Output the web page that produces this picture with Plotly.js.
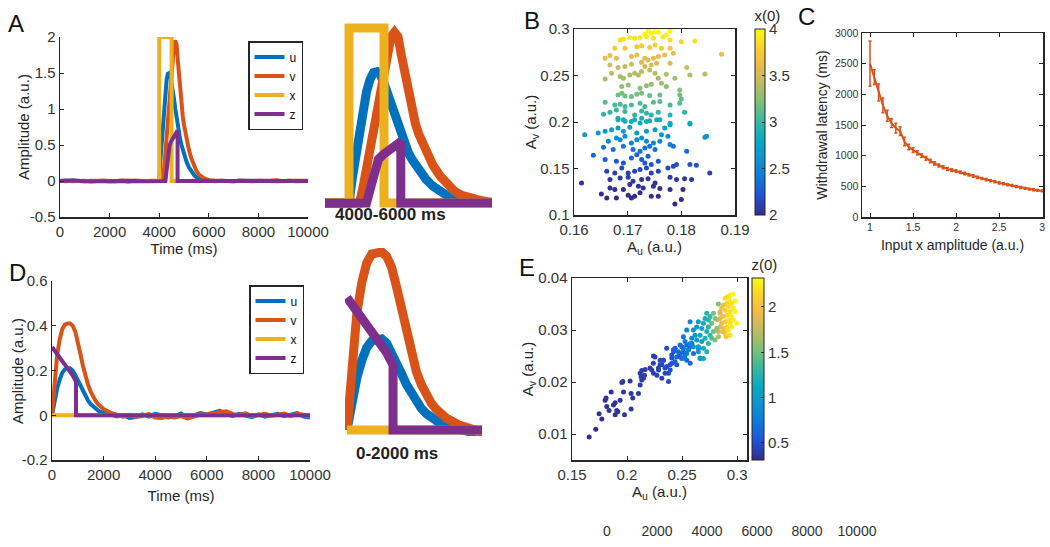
<!DOCTYPE html>
<html>
<head>
<meta charset="utf-8">
<script src="https://cdn.plot.ly/plotly-3.0.1.min.js"></script>
<style>html,body{margin:0;padding:0;background:#fff;}#chart{width:1050px;height:547px;}</style>
</head>
<body>
<div id="chart"></div>
<script>
// ---------------- DATA ----------------
// Panel A: response to a brief input pulse (time in ms)
const A_t = [0,250,500,750,1000,1250,1500,1750,2000,2250,2500,2750,3000,3250,3500,3750,
  4000,4050,4100,4150,4200,4250,4300,4350,4400,4450,4500,4550,4600,4650,4700,4750,4800,4850,4900,4950,5000,
  5100,5200,5300,5400,5500,5600,5700,5800,5900,6000,
  6250,6500,6750,7000,7250,7500,7750,8000,8250,8500,8750,9000,9250,9500,9750,10000];
const A_u = [0.005,-0.004,0.006,0.0,-0.005,0.004,0.008,0.0,-0.004,0.005,0.002,-0.006,0.004,0.0,-0.004,0.003,
  0.0,0.3,0.56,0.8,1.06,1.27,1.41,1.49,1.5,1.46,1.37,1.25,1.13,1.0,0.87,0.76,0.66,0.57,0.5,0.43,0.37,
  0.27,0.19,0.13,0.085,0.055,0.035,0.02,0.012,0.006,0.004,
  -0.004,0.005,0.0,-0.005,0.004,0.006,-0.003,0.002,0.007,0.0,-0.004,0.005,0.002,-0.005,0.004,0.0];
const A_v = [0.0,0.006,-0.004,0.005,0.002,-0.006,0.004,0.006,0.0,-0.004,0.006,0.002,-0.003,0.005,0.0,0.004,
  0.0,0.0,0.0,0.0,0.18,0.4,0.62,0.84,1.06,1.28,1.5,1.72,1.9,1.95,1.9,1.68,1.45,1.23,1.05,0.9,0.78,
  0.58,0.43,0.31,0.21,0.14,0.09,0.06,0.04,0.025,0.012,
  0.006,0.0,0.005,-0.004,0.008,0.002,-0.005,0.004,0.0,0.006,0.01,-0.002,0.005,0.0,0.006,0.003];
const A_tx = [0,4000,4000,4500,4500,10000];
const A_x  = [0,0,2,2,0,0];
const A_tz = [0,500,1000,1500,2000,2500,3000,3500,4000,4250,4300,4350,4420,4500,4600,4700,4740,4740,5000,6000,7000,8000,9000,10000];
const A_z  = [0.0,0.006,-0.003,0.0,0.004,-0.002,0.0,-0.005,0.0,0.0,0.15,0.35,0.5,0.56,0.63,0.68,0.7,0.0,0.0,0.0,0.0,0.0,0.0,0.0];

// Panel D: response to initial conditions
const D_t = [0,100,200,300,400,500,600,700,800,900,1000,1100,1200,1300,1400,1500,1600,1700,1800,1900,2000,
  2250,2500,2750,3000,3250,3500,3750,4000,4250,4500,4750,5000,5250,5500,5750,6000,6250,6500,6750,7000,
  7250,7500,7750,8000,8250,8500,8750,9000,9250,9500,9750,10000];
const D_u = [0,0.07,0.12,0.16,0.19,0.205,0.21,0.21,0.2,0.18,0.155,0.13,0.105,0.085,0.065,0.05,0.038,0.028,0.02,0.014,0.01,
  0.005,-0.005,0.0,-0.012,-0.008,0.004,-0.006,0.006,0.0,-0.01,-0.004,0.008,-0.012,0.0,0.01,0.004,0.012,0.02,0.008,-0.004,
  0.006,0.0,-0.008,0.004,-0.006,0.0,0.006,-0.004,0.004,0.01,-0.006,-0.01];
const D_v = [0,0.15,0.27,0.34,0.385,0.405,0.41,0.41,0.4,0.375,0.33,0.275,0.22,0.175,0.135,0.105,0.08,0.062,0.048,0.036,0.028,
  0.012,0.004,-0.006,0.002,-0.008,-0.004,0.006,-0.01,-0.012,-0.006,-0.01,-0.004,-0.014,-0.006,0.004,0.002,0.01,0.014,0.018,0.006,
  0.0,0.008,-0.004,0.002,0.006,-0.002,0.004,0.008,-0.004,0.006,0.002,-0.006];
const D_tx = [0,10000];
const D_x  = [0,0];
const D_tz = [0,200,400,600,800,930,930,10000];
const D_z  = [0.305,0.275,0.245,0.215,0.178,0.15,0,0];

// Panel B: A_u vs A_v, coloured by x(0)
const B_au = [0.1738,0.1751,0.1779,0.1732,0.1744,0.1757,0.1772,
  0.1686,0.1692,0.1704,0.1713,0.1723,0.1735,0.1748,0.1766,0.1779,0.1800,0.1825,
  0.1676,0.1695,0.1717,0.1726,0.1741,0.1751,0.1763,0.1779,0.1875,
  0.1658,0.1667,0.1679,0.1707,0.1717,0.1732,0.1738,0.1748,0.1757,0.1769,0.1785,
  0.1667,0.1682,0.1695,0.1707,0.1726,0.1732,0.1744,0.1754,0.1779,0.1810,
  0.1658,0.1670,0.1686,0.1692,0.1704,0.1713,0.1720,0.1726,0.1741,0.1751,0.1757,0.1772,0.1788,0.1816,0.1844,
  0.1689,0.1701,0.1723,0.1735,0.1744,0.1763,0.1772,0.1797,
  0.1682,0.1689,0.1695,0.1707,0.1717,0.1726,0.1741,0.1760,0.1797,0.1800,
  0.1658,0.1676,0.1686,0.1695,0.1707,0.1723,0.1732,0.1748,0.1760,0.1779,0.1797,
  0.1655,0.1667,0.1679,0.1695,0.1713,0.1726,0.1735,0.1744,0.1757,0.1779,0.1806,
  0.1682,0.1692,0.1707,0.1726,0.1735,0.1754,0.1779,0.1816,
  0.1682,0.1695,0.1713,0.1723,0.1741,0.1760,0.1779,0.1816,
  0.1620,0.1645,0.1658,0.1670,0.1682,0.1692,0.1704,0.1717,0.1735,0.1751,0.1769,0.1844,0.1847,
  0.1664,0.1679,0.1686,0.1695,0.1707,0.1717,0.1726,0.1735,0.1748,0.1760,0.1763,0.1779,0.1775,
  0.1636,0.1655,0.1673,0.1692,0.1710,0.1723,0.1732,0.1741,0.1751,0.1785,0.1810,
  0.1658,0.1679,0.1692,0.1707,0.1717,0.1726,0.1732,0.1738,0.1744,0.1757,0.1791,0.1828,0.1816,
  0.1661,0.1676,0.1689,0.1701,0.1713,0.1723,0.1735,0.1744,0.1757,0.1775,0.1785,0.1853,
  0.1614,0.1667,0.1686,0.1701,0.1710,0.1726,0.1738,0.1751,0.1779,0.1791,0.1806,0.1819,
  0.1667,0.1676,0.1692,0.1704,0.1720,0.1729,0.1748,0.1760,0.1779,0.1803,
  0.1651,0.1661,0.1679,0.1701,0.1707,0.1713,0.1744,0.1757,0.1800,0.1723,0.1788];
const B_av = [0.2979,0.2971,0.2979,0.2943,0.2953,0.2964,0.2936,
  0.2882,0.2893,0.2907,0.2900,0.2907,0.2918,0.2900,0.2918,0.2882,0.2864,0.2871,
  0.2792,0.2792,0.2810,0.2821,0.2800,0.2828,0.2792,0.2792,0.2728,
  0.2685,0.2714,0.2685,0.2703,0.2721,0.2685,0.2667,0.2685,0.2703,0.2721,0.2739,
  0.2613,0.2585,0.2596,0.2621,0.2642,0.2596,0.2613,0.2631,0.2631,0.2585,
  0.2463,0.2524,0.2488,0.2470,0.2506,0.2524,0.2506,0.2542,0.2560,0.2524,0.2470,0.2513,0.2470,0.2506,0.2517,
  0.2381,0.2399,0.2363,0.2391,0.2406,0.2417,0.2381,0.2345,
  0.2291,0.2309,0.2280,0.2273,0.2298,0.2309,0.2284,0.2291,0.2291,0.2248,
  0.2212,0.2184,0.2191,0.2166,0.2184,0.2202,0.2166,0.2212,0.2220,0.2184,0.2202,
  0.2084,0.2105,0.2130,0.2112,0.2076,0.2119,0.2094,0.2076,0.2105,0.2076,0.2105,
  0.2041,0.2023,0.2005,0.2041,0.2005,0.2023,0.1987,0.1987,
  0.2025,0.2007,0.2025,0.1989,0.2014,0.2025,0.1971,0.1979,
  0.1864,0.1882,0.1900,0.1918,0.1936,0.1900,0.1943,0.1882,0.1900,0.1918,0.1936,0.1835,0.1846,
  0.1792,0.1828,0.1810,0.1846,0.1774,0.1810,0.1828,0.1792,0.1774,0.1792,0.1864,0.1757,0.1846,
  0.1642,0.1728,0.1703,0.1739,0.1703,0.1685,0.1721,0.1739,0.1703,0.1739,0.1685,
  0.1596,0.1578,0.1560,0.1613,0.1649,0.1596,0.1560,0.1631,0.1542,0.1578,0.1542,0.1535,0.1542,
  0.1470,0.1452,0.1506,0.1452,0.1470,0.1488,0.1506,0.1452,0.1470,0.1506,0.1524,0.1452,
  0.1345,0.1381,0.1399,0.1406,0.1363,0.1381,0.1391,0.1345,0.1406,0.1381,0.1391,0.1381,
  0.1291,0.1273,0.1273,0.1327,0.1309,0.1291,0.1309,0.1284,0.1273,0.1273,
  0.1227,0.1184,0.1184,0.1212,0.1184,0.1202,0.1202,0.1202,0.1166,0.1238,0.1119];
const B_x0 = [4.0,4.0,4.0,3.96,3.97,3.98,3.95,
  3.86,3.88,3.9,3.88,3.9,3.92,3.88,3.92,3.86,3.83,3.85,
  3.72,3.72,3.75,3.76,3.74,3.77,3.72,3.72,3.65,
  3.58,3.62,3.58,3.6,3.62,3.58,3.55,3.58,3.6,3.62,3.64,
  3.5,3.47,3.48,3.51,3.53,3.48,3.5,3.52,3.52,3.47,
  3.33,3.4,3.36,3.34,3.38,3.4,3.38,3.42,3.44,3.4,3.34,3.39,3.34,3.38,3.39,
  3.27,3.29,3.25,3.28,3.3,3.31,3.27,3.23,
  3.17,3.19,3.16,3.15,3.18,3.19,3.16,3.17,3.17,3.12,
  3.09,3.06,3.07,3.04,3.06,3.08,3.04,3.09,3.1,3.06,3.08,
  2.96,2.98,3.01,2.99,2.95,3.0,2.97,2.95,2.98,2.95,2.98,
  2.9,2.88,2.86,2.9,2.86,2.88,2.84,2.84,
  2.86,2.84,2.86,2.82,2.85,2.86,2.8,2.81,
  2.64,2.66,2.68,2.7,2.72,2.68,2.73,2.66,2.68,2.7,2.72,2.62,2.63,
  2.53,2.57,2.55,2.59,2.51,2.55,2.57,2.53,2.51,2.53,2.61,2.49,2.59,
  2.3,2.4,2.37,2.41,2.37,2.35,2.39,2.41,2.37,2.41,2.35,
  2.25,2.23,2.21,2.27,2.3,2.25,2.21,2.28,2.19,2.23,2.19,2.18,2.19,
  2.12,2.1,2.15,2.1,2.12,2.14,2.15,2.1,2.12,2.15,2.16,2.1,
  2.04,2.07,2.08,2.09,2.06,2.07,2.08,2.04,2.09,2.07,2.08,2.07,
  2.03,2.02,2.02,2.05,2.04,2.03,2.04,2.03,2.02,2.02,
  2.01,2.0,2.0,2.01,2.0,2.01,2.01,2.01,2.0,2.02,2.0];

// Panel C: withdrawal latency vs input amplitude
const C_amp = [1.00,1.05,1.10,1.15,1.20,1.25,1.30,1.35,1.40,1.45,1.50,1.55,1.60,1.65,1.70,1.75,1.80,1.85,1.90,1.95,
  2.00,2.05,2.10,2.15,2.20,2.25,2.30,2.35,2.40,2.45,2.50,2.55,2.60,2.65,2.70,2.75,2.80,2.85,2.90,2.95,3.00];
const C_lat = [2500,2280,2030,1820,1650,1530,1450,1400,1230,1140,1090,1045,1000,955,912,873,840,810,782,765,
  750,728,708,688,668,645,628,610,592,574,556,541,526,512,496,481,468,455,444,434,425];
const C_err = [370,120,140,120,90,70,80,70,70,45,40,35,30,30,28,26,25,24,23,22,
  21,20,20,19,19,18,18,18,17,17,17,16,16,16,16,15,15,15,15,15,15];

// Panel E: A_u vs A_v, coloured by z(0)
const E_au = [0.1656,0.1716,0.1771,0.1746,0.1816,0.1801,0.1810,0.1856,0.1837,0.1877,0.1892,0.1907,0.1892,0.1937,0.1916,0.1977,
  0.1968,0.2037,0.2052,0.2037,0.2028,0.1953,0.1962,0.2104,0.2119,0.2134,0.2128,0.2149,0.2119,0.2134,0.2165,0.2159,
  0.2225,0.2240,0.2240,0.2271,0.2286,0.2301,0.2316,0.2316,0.2346,0.2362,0.2377,0.2377,0.2392,0.2331,0.2407,0.2407,
  0.2422,0.2437,0.2452,0.2468,0.2483,0.2498,0.2498,0.2513,0.2528,0.2543,0.2543,0.2559,0.2574,0.2589,0.2604,0.2574,
  0.2649,0.2665,
  0.2936,0.2960,0.2912,0.2891,0.2930,0.2982,0.2951,0.2906,0.2876,0.2921,0.2966,0.2860,0.2891,0.2936,0.2982,0.2845,
  0.2912,0.2876,0.2951,0.2845,0.2921,0.2966,0.2891,0.2860,0.2936,0.2906,0.2951,0.2876,0.2921,0.2891,0.2936,0.2997,
  0.2830,0.2845,0.2821,
  0.2845,0.2869,0.2900,0.2830,
  0.2785,0.2800,0.2769,0.2815,0.2785,0.2830,0.2800,0.2754,0.2739,
  0.2724,0.2709,0.2694,0.2739,0.2679,0.2724,0.2754,0.2709,0.2679,0.2739,0.2694,0.2724,0.2663,0.2648,0.2769,
  0.2648,0.2633,0.2603,0.2618,0.2588,0.2633,0.2573,0.2603,0.2648,0.2663,0.2694,0.2557,0.2573,
  0.2542,0.2512,0.2527,0.2482,0.2542,0.2512,0.2466,0.2497,0.2451,0.2527,0.2421,0.2436,
  0.2360,0.2406,0.2330,0.2300,0.2254,0.2391,0.2345,0.2239,0.2285,0.2209];
const E_av = [0.0094,0.0109,0.0129,0.0139,0.0153,0.0165,0.0169,0.0181,0.0145,0.0156,0.0160,0.0145,0.0137,0.0165,0.0143,0.0137,
  0.0181,0.0148,0.0169,0.0178,0.0202,0.0199,0.0201,0.0178,0.0194,0.0204,0.0210,0.0207,0.0217,0.0222,0.0224,0.0213,
  0.0223,0.0217,0.0250,0.0213,0.0223,0.0242,0.0233,0.0207,0.0217,0.0230,0.0217,0.0201,0.0223,0.0242,0.0236,0.0246,
  0.0258,0.0265,0.0233,0.0249,0.0255,0.0246,0.0268,0.0258,0.0252,0.0271,0.0242,0.0262,0.0236,0.0274,0.0255,0.0268,
  0.0265,0.0246,
  0.0367,0.0369,0.0364,0.0361,0.0358,0.0356,0.0351,0.0351,0.0348,0.0345,0.0342,0.0342,0.0338,0.0335,0.0335,0.0335,
  0.0329,0.0326,0.0326,0.0322,0.0319,0.0319,0.0316,0.0313,0.0313,0.0306,0.0306,0.0303,0.0300,0.0294,0.0290,0.0313,
  0.0350,0.0332,0.0319,
  0.0306,0.0297,0.0287,0.0297,
  0.0332,0.0322,0.0313,0.0303,0.0297,0.0287,0.0281,0.0326,0.0319,
  0.0332,0.0322,0.0313,0.0306,0.0303,0.0297,0.0290,0.0284,0.0278,0.0274,0.0265,0.0258,0.0290,0.0268,0.0284,
  0.0316,0.0306,0.0300,0.0290,0.0284,0.0281,0.0274,0.0268,0.0258,0.0245,0.0245,0.0262,0.0316,
  0.0300,0.0287,0.0278,0.0271,0.0255,0.0265,0.0258,0.0245,0.0248,0.0245,0.0262,0.0239,
  0.0265,0.0252,0.0242,0.0233,0.0248,0.0233,0.0227,0.0236,0.0227,0.0227];
const E_z0 = [0.33,0.33,0.35,0.35,0.35,0.35,0.36,0.36,0.35,0.36,0.36,0.36,0.35,0.37,0.36,0.37,
  0.37,0.38,0.38,0.38,0.38,0.37,0.37,0.39,0.39,0.4,0.4,0.4,0.4,0.4,0.4,0.4,
  0.42,0.42,0.43,0.43,0.44,0.45,0.45,0.44,0.46,0.47,0.47,0.46,0.48,0.46,0.5,0.5,
  0.52,0.53,0.52,0.55,0.56,0.57,0.58,0.6,0.6,0.62,0.6,0.63,0.62,0.66,0.67,0.64,
  0.72,0.72,
  2.25,2.3,2.2,2.15,2.25,2.3,2.2,2.1,2.0,2.2,2.25,1.95,2.1,2.2,2.3,1.9,
  2.15,2.05,2.25,1.9,2.2,2.25,2.1,1.95,2.2,2.15,2.25,2.0,2.2,2.1,2.2,2.3,
  1.55,1.85,1.8,
  1.9,1.95,2.05,1.8,
  1.5,1.55,1.45,1.6,1.5,1.65,1.55,1.35,1.3,
  1.25,1.2,1.15,1.25,1.1,1.2,1.3,1.2,1.1,1.25,1.15,1.2,1.05,1.0,1.4,
  1.0,0.95,0.9,0.92,0.88,0.95,0.85,0.9,1.0,1.05,1.1,0.8,0.85,
  0.78,0.72,0.75,0.68,0.75,0.7,0.65,0.68,0.62,0.72,0.58,0.58,
  0.5,0.52,0.48,0.45,0.43,0.5,0.47,0.42,0.44,0.41];

// Tick values and labels
const timeTicks = [0,2000,4000,6000,8000,10000];
const ampTicksA = [-0.5,0,0.5,1,1.5,2];
const ampLabelsA = ['-0.5','0','0.5','1','1.5','2'];
const ampTicksD = [-0.2,0,0.2,0.4,0.6];
const ampLabelsD = ['-0.2','0','0.2','0.4','0.6'];
const B_xticks = [0.16,0.17,0.18,0.19];
const B_yticks = [0.1,0.15,0.2,0.25,0.3];
const B_cticks = [2,2.5,3,3.5,4];
const C_xticks = [1,1.5,2,2.5,3];
const C_yticks = [0,500,1000,1500,2000,2500,3000];
const E_xticks = [0.15,0.2,0.25,0.3];
const E_yticks = [0.01,0.02,0.03,0.04];
const E_cticks = [0.5,1,1.5,2];
const strayTicks = [0,2000,4000,6000,8000,10000];
const seriesNames = ['u','v','x','z'];

// ---------------- STYLE ----------------
const W = 1050, H = 547;
const FONT = '"Liberation Sans", Arial, Helvetica, sans-serif';
const AXC = '#262626';
const TXT = '#333333';
const FS = 15;
const COL = {u:'#0072BD', v:'#D95319', x:'#EDB120', z:'#7E2F8E'};
const parula = [[0,'rgb(53,42,135)'],[0.1,'rgb(32,83,212)'],[0.2,'rgb(15,119,219)'],[0.3,'rgb(12,147,210)'],
  [0.4,'rgb(7,169,194)'],[0.5,'rgb(51,184,161)'],[0.6,'rgb(122,191,124)'],[0.7,'rgb(183,189,100)'],
  [0.8,'rgb(236,185,76)'],[0.9,'rgb(251,208,44)'],[1,'rgb(249,251,14)']];
const px = v => v / W;
const py = v => 1 - v / H;

function axis(d0, d1, range, extra) {
  return Object.assign({
    domain: [d0, d1], range: range, showline: true, linecolor: AXC, linewidth: 1.5,
    ticks: 'inside', ticklen: 4, tickwidth: 1, tickcolor: AXC, showgrid: false, zeroline: false,
    tickfont: {family: FONT, size: FS, color: TXT}, fixedrange: true
  }, extra || {});
}
function hidden(d0, d1, range, anchor) {
  return {domain: [d0, d1], range: range, visible: false, fixedrange: true, anchor: anchor};
}
function ttl(text, standoff, size) {
  return {text: text, standoff: standoff, font: {family: FONT, size: size || FS, color: AXC}};
}

// ---------------- TRACES ----------------
const traces = [];
const Aser = {u: [A_t, A_u], v: [A_t, A_v], x: [A_tx, A_x], z: [A_tz, A_z]};
const Dser = {u: [D_t, D_u], v: [D_t, D_v], x: [D_tx, D_x], z: [D_tz, D_z]};
seriesNames.forEach(n => {
  traces.push({x: Aser[n][0], y: Aser[n][1], name: n, mode: 'lines', line: {color: COL[n], width: 4},
    xaxis: 'x', yaxis: 'y', legend: 'legend', showlegend: true});
});
seriesNames.forEach(n => {
  traces.push({x: Aser[n][0], y: Aser[n][1], name: n, mode: 'lines', line: {color: COL[n], width: 9},
    xaxis: 'x2', yaxis: 'y2', showlegend: false});
});
traces.push({x: B_au, y: B_av, mode: 'markers', xaxis: 'x3', yaxis: 'y3', showlegend: false,
  marker: {size: 5, color: B_x0, colorscale: parula, cmin: 2, cmax: 4,
    colorbar: {x: px(755), xanchor: 'left', y: py(111), yanchor: 'middle', len: 208, lenmode: 'pixels',
      thickness: 10, thicknessmode: 'pixels', outlinewidth: 1, outlinecolor: AXC, xpad: 0, ypad: 0,
      tickvals: B_cticks, ticks: 'inside', ticklen: 3, tickcolor: AXC,
      tickfont: {family: FONT, size: FS, color: TXT},
      title: {text: 'x(0)', side: 'top', font: {family: FONT, size: FS, color: AXC}}}}});
traces.push({x: C_amp, y: C_lat, mode: 'lines', xaxis: 'x4', yaxis: 'y4', showlegend: false,
  line: {color: '#D95319', width: 2},
  error_y: {type: 'data', array: C_err, visible: true, color: '#D95319', thickness: 1.5, width: 1.5}});
seriesNames.forEach(n => {
  traces.push({x: Dser[n][0], y: Dser[n][1], name: n, mode: 'lines', line: {color: COL[n], width: 4},
    xaxis: 'x5', yaxis: 'y5', legend: 'legend2', showlegend: true});
});
seriesNames.forEach(n => {
  traces.push({x: Dser[n][0], y: Dser[n][1], name: n, mode: 'lines', line: {color: COL[n], width: 9},
    xaxis: 'x6', yaxis: 'y6', showlegend: false});
});
traces.push({x: E_au, y: E_av, mode: 'markers', xaxis: 'x7', yaxis: 'y7', showlegend: false,
  marker: {size: 5, color: E_z0, colorscale: parula, cmin: 0.31, cmax: 2.32,
    colorbar: {x: px(752), xanchor: 'left', y: py(358), yanchor: 'middle', len: 204, lenmode: 'pixels',
      thickness: 12, thicknessmode: 'pixels', outlinewidth: 1, outlinecolor: AXC, xpad: 0, ypad: 0,
      tickvals: E_cticks, ticks: 'inside', ticklen: 3, tickcolor: AXC,
      tickfont: {family: FONT, size: FS, color: TXT},
      title: {text: 'z(0)', side: 'top', font: {family: FONT, size: FS, color: AXC}}}}});
traces.push({x: [], y: [], mode: 'lines', xaxis: 'x8', yaxis: 'y8', showlegend: false});

// ---------------- LAYOUT ----------------
const legendStyle = {bgcolor: '#ffffff', bordercolor: AXC, borderwidth: 1.5, xref: 'paper', yref: 'paper',
  xanchor: 'right', yanchor: 'top', font: {family: FONT, size: 12, color: '#111'}, itemwidth: 30,
  tracegroupgap: 0, itemclick: false, itemdoubleclick: false};

function vTitle(text, xPix, yPix) {
  return {text: text, x: px(xPix), y: py(yPix), xref: 'paper', yref: 'paper', showarrow: false, textangle: -90,
    xanchor: 'center', yanchor: 'middle', font: {family: FONT, size: FS, color: AXC}};
}

const layout = {
  width: W, height: H, margin: {l: 0, r: 0, t: 0, b: 0}, paper_bgcolor: '#fff', plot_bgcolor: 'rgba(0,0,0,0)',
  font: {family: FONT, color: AXC},
  legend: Object.assign({}, legendStyle, {x: px(303), y: py(41)}),
  legend2: Object.assign({}, legendStyle, {x: px(304), y: py(285)}),
  xaxis: axis(px(60), px(308), [0, 10000], {anchor: 'y', tickvals: timeTicks, tickformat: 'd',
    title: ttl('Time (ms)', 3)}),
  yaxis: axis(py(217), py(37), [-0.5, 2], {anchor: 'x', tickvals: ampTicksA, ticktext: ampLabelsA}),
  xaxis2: hidden(px(325), px(492), [3657, 6043], 'y2'),
  yaxis2: hidden(py(210), py(20), [-0.08, 2.09], 'x2'),
  xaxis3: axis(px(574), px(735), [0.16, 0.19], {anchor: 'y3', mirror: 'ticks', tickvals: B_xticks,
    title: ttl('A<sub>u</sub> (a.u.)', 0)}),
  yaxis3: axis(py(215), py(29), [0.1, 0.3], {anchor: 'x3', mirror: 'ticks', tickvals: B_yticks,
    title: ttl('A<sub>v</sub> (a.u.)', 0)}),
  xaxis4: axis(px(862), px(1043), [0.907, 3.01], {anchor: 'y4', mirror: 'ticks', tickvals: C_xticks,
    tickfont: {family: FONT, size: 10.5, color: TXT}, title: ttl('Input x amplitude (a.u.)', 8, 14)}),
  yaxis4: axis(py(217), py(33), [0, 3000], {anchor: 'x4', mirror: 'ticks', tickvals: C_yticks,
    tickfont: {family: FONT, size: 10.5, color: TXT}, title: ttl('Withdrawal latency (ms)', 4, 14)}),
  xaxis5: axis(px(52), px(310), [0, 10000], {anchor: 'y5', tickvals: timeTicks, tickformat: 'd',
    title: ttl('Time (ms)', 9)}),
  yaxis5: axis(py(460), py(281), [-0.2, 0.6], {anchor: 'x5', tickvals: ampTicksD, ticktext: ampLabelsD}),
  xaxis6: hidden(px(345), px(482), [-40, 2727], 'y6'),
  yaxis6: hidden(py(436), py(248), [-0.0138, 0.419], 'x6'),
  xaxis7: axis(px(572), px(747), [0.15, 0.309], {anchor: 'y7', mirror: 'ticks', tickvals: E_xticks,
    title: ttl('A<sub>u</sub> (a.u.)', 5)}),
  yaxis7: axis(py(460), py(278), [0.005, 0.04], {anchor: 'x7', mirror: 'ticks', tickvals: E_yticks,
    title: ttl('A<sub>v</sub> (a.u.)', 0)}),
  xaxis8: {domain: [px(607), px(857)], range: [0, 10000], anchor: 'free', position: py(521), showline: false,
    ticks: '', showgrid: false, zeroline: false, tickvals: strayTicks, tickformat: 'd', fixedrange: true,
    tickfont: {family: FONT, size: 14, color: TXT}},
  yaxis8: {domain: [0, 0.03], visible: false, anchor: 'x8', fixedrange: true},
  annotations: [
    ['A', 16, 24], ['B', 532, 20], ['C', 806, 16], ['D', 17, 272], ['E', 527, 268]
  ].map(a => ({text: a[0], x: px(a[1]), y: py(a[2]), xref: 'paper', yref: 'paper', showarrow: false,
    xanchor: 'center', yanchor: 'middle', font: {family: FONT, size: 24, color: '#111'}}))
  .concat([
    vTitle('Amplitude (a.u.)', 24, 127),
    vTitle('Amplitude (a.u.)', 17, 371),
    {text: '<b>4000-6000 ms</b>', x: px(390), y: py(214), xref: 'paper', yref: 'paper', showarrow: false,
      xanchor: 'center', yanchor: 'middle', font: {family: FONT, size: 17, color: '#222'}},
    {text: '<b>0-2000 ms</b>', x: px(397), y: py(453), xref: 'paper', yref: 'paper', showarrow: false,
      xanchor: 'center', yanchor: 'middle', font: {family: FONT, size: 17, color: '#222'}}
  ])
};

Plotly.newPlot('chart', traces, layout, {displayModeBar: false, staticPlot: true});
</script>
</body>
</html>
